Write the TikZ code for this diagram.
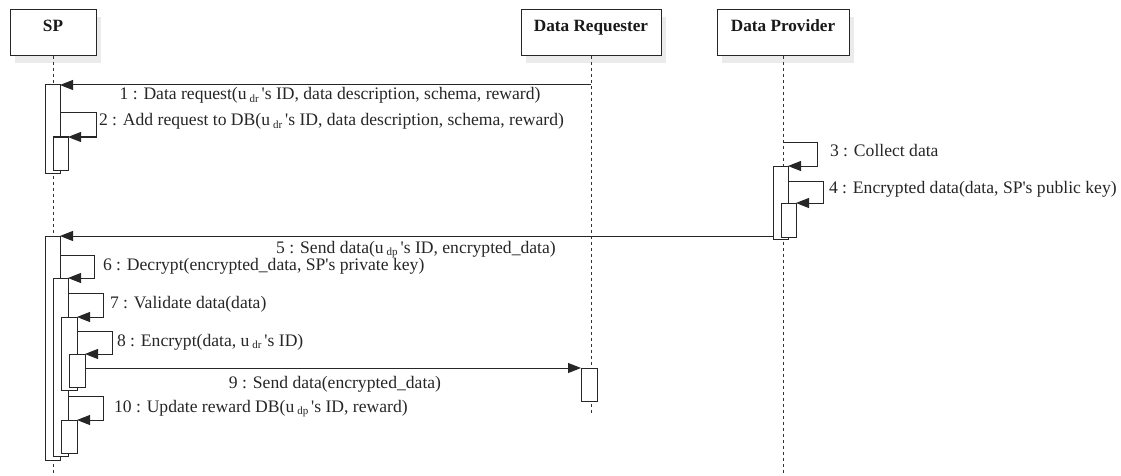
\documentclass[tikz,border=0pt]{standalone}
\usepackage{fontspec}
\setmainfont{Liberation Serif}[Ligatures=TeXOff]
\usetikzlibrary{arrows.meta,shadows}

% small lowered subscript used in the user identifiers (u dr, u dp)
\newcommand{\usub}[1]{u\,\raisebox{-2.5pt}{\fontsize{11}{11}\selectfont #1}\,}
% activation bar: name, left x, top y, width, height
\newcommand{\actbar}[5]{\node[act, minimum width=#4, minimum height=#5] (#1) at (#2,#3) {};}

\begin{document}
\begin{tikzpicture}[x=1pt,y=-1pt,
  every node/.style={inner sep=0pt, outer sep=0pt},
  ink/.style={draw=black!85, line width=1pt},
  head/.style={ink, fill=white, minimum height=46, anchor=north,
    drop shadow={shadow xshift=5pt, shadow yshift=-7pt, opacity=1, fill=black!8}},
  title/.style={font=\fontsize{17.2}{20}\selectfont\bfseries, text=black!90, anchor=base},
  lifeline/.style={draw=black!80, line width=0.9pt, dash pattern=on 3pt off 3pt},
  act/.style={ink, fill=white, anchor=north west},
  msg/.style={ink, -{Triangle[length=13pt,width=10pt]}},
  lbl/.style={font=\fontsize{17.6}{20}\selectfont, text=black!85, anchor=base},
  lbll/.style={lbl, anchor=base west}]

\useasboundingbox (0,0) rectangle (1121,476);

% participants
\node[head, minimum width=86] (sp) at (53,10) {};
\node[head, minimum width=140] (dr) at (591,10) {};
\node[head, minimum width=132] (dp) at (783,10) {};
\node[title] (spt) at ([yshift=-22pt]sp.north) {SP};
\node[title] (drt) at ([yshift=-22pt]dr.north) {Data Requester};
\node[title] (dpt) at ([yshift=-22pt]dp.north) {Data Provider};

% lifelines
\coordinate (spend) at (53,476);
\coordinate (drend) at (591,413);
\coordinate (dpend) at (783,476);
\draw[lifeline] (sp.south) -- (spend);
\draw[lifeline] (dr.south) -- (drend);
\draw[lifeline] (dp.south) -- (dpend);

% activation bars (outer ones first)
\actbar{a1}{45}{85}{15}{88}
\actbar{a2}{53}{137}{15}{33}
\actbar{b1}{773}{166}{15}{73}
\actbar{b2}{781}{203}{15}{34}
\actbar{a3}{45}{236}{15}{224}
\actbar{a4}{53}{278}{15}{178}
\actbar{a5}{61}{317}{16}{73}
\actbar{a6}{69}{354}{16}{33}
\actbar{c1}{581}{368}{16}{33}
\actbar{a7}{61}{420}{16}{33}

% messages
\draw[msg] (dr.south |- a1.north) -- (a1.north east);
\node[lbl] (l1) at (330,100) {1 : Data request(\usub{dr}'s ID, data description, schema, reward)};

\draw[msg] (a1.east |- 0,113) -- (96,113) |- (a2.north east);
\node[lbll] (l2) at (99,126) {2 : Add request to DB(\usub{dr}'s ID, data description, schema, reward)};

\draw[msg] (dp.south |- 0,142) -- (817,142) |- (b1.north east);
\node[lbll] (l3) at (830,157) {3 : Collect data};

\draw[msg] (b1.east |- 0,181) -- (823,181) |- (b2.north east);
\node[lbll] (l4) at (829,193) {4 : Encrypted data(data, SP's public key)};

\draw[msg] (b1.west |- a3.north) -- (a3.north east);
\node[lbl] (l5) at (416,253) {5 : Send data(\usub{dp}'s ID, encrypted\_data)};

\draw[msg] (a3.east |- 0,255) -- (94,255) |- (a4.north east);
\node[lbll] (l6) at (103,270) {6 : Decrypt(encrypted\_data, SP's private key)};

\draw[msg] (a4.east |- 0,293) -- (103,293) |- (a5.north east);
\node[lbll] (l7) at (110,308) {7 : Validate data(data)};

\draw[msg] (a5.east |- 0,331) -- (112,331) |- (a6.north east);
\node[lbll] (l8) at (117,346) {8 : Encrypt(data, \usub{dr}'s ID)};

\draw[msg] (a6.east |- c1.north) -- (c1.north west);
\node[lbl] (l9) at (335,388) {9 : Send data(encrypted\_data)};

\draw[msg] (a4.east |- 0,396) -- (103,396) |- (a7.north east);
\node[lbll] (l10) at (114,412) {10 : Update reward DB(\usub{dp}'s ID, reward)};

\end{tikzpicture}
\end{document}
